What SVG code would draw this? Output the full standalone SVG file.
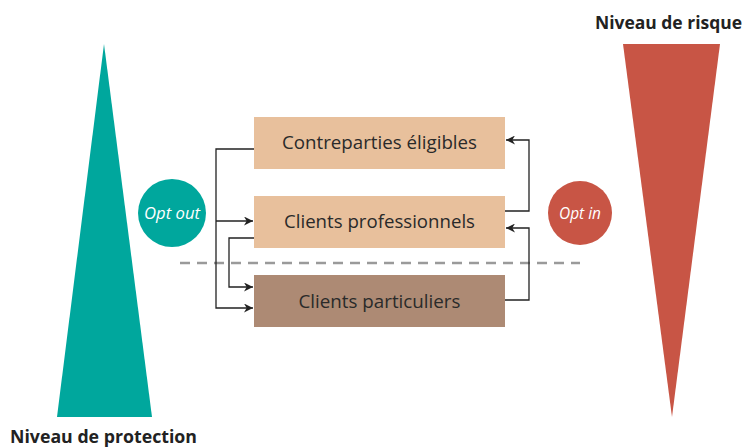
<svg xmlns="http://www.w3.org/2000/svg" width="745" height="448" viewBox="0 0 745 448">
<defs>
<style>
.box{font-family:"Open Sans","Noto Sans",sans-serif;font-size:18px;fill:#2a2a2a;text-anchor:middle}
.opt{font-family:"Open Sans","Noto Sans",sans-serif;font-size:17px;font-style:italic;fill:#fff;text-anchor:middle}
.title{font-family:"Open Sans","Noto Sans",sans-serif;font-size:17px;font-weight:bold;fill:#222}
.c{fill:none;stroke:#222;stroke-width:1.3}
</style>
<marker id="ah" viewBox="0 0 10 10" refX="10" refY="5" markerWidth="9" markerHeight="9" markerUnits="userSpaceOnUse" orient="auto">
<path d="M0,0 L10,5 L0,10 L3,5 Z" fill="#222"/>
</marker>
</defs>
<rect width="745" height="448" fill="#fff"/>
<g id="protection">
<polygon points="104,44 152,417 57,417" fill="#00a79d"/>
<text class="title" x="10" y="443" textLength="187" lengthAdjust="spacingAndGlyphs">Niveau de protection</text>
</g>
<g id="risque">
<polygon points="623,44 720,44 672,417" fill="#c85545"/>
<text class="title" x="595" y="29" textLength="147" lengthAdjust="spacingAndGlyphs">Niveau de risque</text>
</g>
<line x1="180" y1="263" x2="580" y2="263" stroke="#9a9a9a" stroke-width="2.5" stroke-dasharray="10,7"/>
<g id="connectors">
<polyline class="c" points="254,149 216,149 216,308 253,308" marker-end="url(#ah)"/>
<line class="c" x1="216" y1="221" x2="253" y2="221" marker-end="url(#ah)"/>
<polyline class="c" points="254,238 229,238 229,287 253,287" marker-end="url(#ah)"/>
<polyline class="c" points="505,211 529,211 529,140 506,140" marker-end="url(#ah)"/>
<polyline class="c" points="505,300 529,300 529,228 506,228" marker-end="url(#ah)"/>
</g>
<g id="contreparties">
<rect x="254" y="117" width="251" height="52" fill="#e8c09c"/>
<text class="box" x="379.5" y="149" textLength="195" lengthAdjust="spacingAndGlyphs">Contreparties éligibles</text>
</g>
<g id="professionnels">
<rect x="254" y="196" width="251" height="52" fill="#e8c09c"/>
<text class="box" x="379.5" y="228" textLength="191" lengthAdjust="spacingAndGlyphs">Clients professionnels</text>
</g>
<g id="particuliers">
<rect x="254" y="275" width="251" height="52" fill="#ad8a74"/>
<text class="box" x="379.5" y="308" textLength="162" lengthAdjust="spacingAndGlyphs">Clients particuliers</text>
</g>
<g id="optout">
<circle cx="172" cy="213" r="34" fill="#00a79d"/>
<text class="opt" x="172" y="219" textLength="56" lengthAdjust="spacingAndGlyphs">Opt out</text>
</g>
<g id="optin">
<circle cx="580" cy="213" r="32" fill="#c85545"/>
<text class="opt" x="580" y="219" textLength="42" lengthAdjust="spacingAndGlyphs">Opt in</text>
</g>
</svg>
